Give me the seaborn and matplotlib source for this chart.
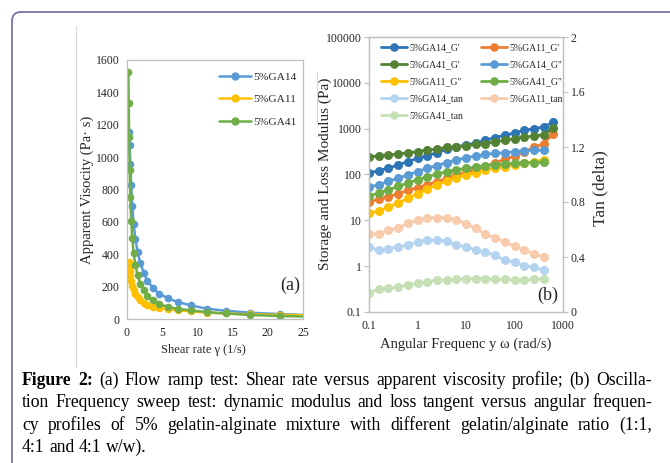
import matplotlib
matplotlib.use("Agg")
import matplotlib.pyplot as plt
import seaborn as sns
import pandas as pd
from matplotlib.patches import FancyBboxPatch
from matplotlib.lines import Line2D
from matplotlib.ticker import NullLocator
from matplotlib.transforms import IdentityTransform

# ---------------- (a) flow ramp: shear rate vs apparent viscosity
samples_a = ["5%GA14", "5%GA11", "5%GA41"]
colors_a = ["#5B9BD5", "#FFC000", "#70AD47"]

shear_ga14 = [0.3, 0.38, 0.47, 0.6, 0.75, 0.94, 1.2, 1.5, 1.9, 2.4, 2.9, 3.7, 4.6,
              5.8, 7.2, 9.1, 11.3, 14.0, 17.5, 21.8, 27.1]
visc_ga14 = [1156, 1075, 959, 827, 701, 586, 496, 412, 346, 284, 235, 191, 156,
             128, 105, 84, 64, 51, 39, 30, 22]

shear_ga11 = [0.24, 0.3, 0.38, 0.47, 0.6, 0.75, 0.94, 1.2, 1.5, 1.9, 2.4, 2.9, 3.7,
              4.6, 5.8, 7.2, 9.1, 11.3, 14.0, 17.5, 21.8, 27.1]
visc_ga11 = [350, 325, 295, 265, 235, 205, 180, 155, 135, 115, 100, 88, 77,
             68, 60, 53, 47, 40, 34, 29, 25, 22]

shear_ga41 = [0.19, 0.24, 0.3, 0.38, 0.47, 0.6, 0.75, 0.94, 1.2, 1.5, 1.9, 2.4, 2.9,
              3.7, 4.6, 5.8, 7.2, 9.1, 11.3, 14.0, 17.5, 21.8, 27.1]
visc_ga41 = [1527, 1333, 1123, 918, 751, 607, 498, 405, 333, 272, 218, 177, 144,
             115, 92, 75, 63, 53, 43, 34, 25, 18, 14]

# ---------------- (b) frequency sweep
freq = [0.1, 0.158, 0.251, 0.398, 0.631, 1.0, 1.58, 2.51, 3.98, 6.31, 10.0, 15.8,
        25.1, 39.8, 63.1, 100, 158, 251, 398]
freq_gp = freq + [631]

ga14_gp = [107, 122, 137, 162, 191, 225, 257, 298, 352, 402, 437, 490, 560, 639,
           718, 806, 920, 1000, 1086, 1393]
ga11_gp = [25, 29, 33, 38, 45, 52, 60, 70, 82, 96, 112, 130, 149, 181, 214, 253,
           314, 389, 470, 780]
ga41_gp = [245, 253, 266, 279, 298, 314, 340, 358, 389, 402, 423, 452, 474, 516,
           560, 608, 661, 684, 742, 1034]
ga14_gpp = [53, 60, 71, 83, 98, 116, 137, 157, 182, 207, 232, 253, 275, 289, 298,
            314, 330, 340, 340]
ga11_gpp = [14.2, 15.9, 19.4, 24, 30, 38, 48, 60, 73, 86, 98, 110, 126, 137, 149,
            162, 176, 191, 207]
ga41_gpp = [33.5, 39.5, 46.5, 55, 65, 77, 90, 102, 116, 126, 137, 144, 157, 162,
            170, 176, 181, 181, 185]
ga14_tan = [0.475, 0.448, 0.461, 0.475, 0.487, 0.509, 0.521, 0.521, 0.516, 0.487,
            0.475, 0.451, 0.436, 0.412, 0.378, 0.364, 0.335, 0.327, 0.303]
ga11_tan = [0.565, 0.57, 0.594, 0.613, 0.645, 0.667, 0.686, 0.686, 0.686, 0.669,
            0.642, 0.608, 0.565, 0.54, 0.509, 0.48, 0.451, 0.424, 0.4]
ga41_tan = [0.141, 0.165, 0.172, 0.182, 0.196, 0.208, 0.221, 0.230, 0.233, 0.238,
            0.242, 0.242, 0.242, 0.238, 0.238, 0.233, 0.233, 0.238, 0.242]

mod_names = ["5%GA14_G'", "5%GA11_G'", "5%GA41_G'", '5%GA14_G"', '5%GA11_G"', '5%GA41_G"']
mod_colors = ["#2E75B6", "#ED7D31", "#548235", "#5B9BD5", "#FFC000", "#70AD47"]
tan_names = ["5%GA14_tan", "5%GA11_tan", "5%GA41_tan"]
tan_colors = ["#B4D3EF", "#F8CBAD", "#C5E0B4"]

ticks_a_x = [0, 5, 10, 15, 20, 25]
ticks_a_y = [0, 200, 400, 600, 800, 1000, 1200, 1400, 1600]
ticks_b_x = [0.1, 1, 10, 100, 1000]
ticks_b_x_lab = ["0.1", "1", "10", "100", "1000"]
ticks_b_y = [0.1, 1, 10, 100, 1000, 10000, 100000]
ticks_b_y_lab = ["0.1", "1", "10", "100", "1000", "10000", "100000"]
ticks_tan = [0, 0.4, 0.8, 1.2, 1.6, 2]
ticks_tan_lab = ["0", "0.4", "0.8", "1.2", "1.6", "2"]

caption = [
    [("Figure 2:", True), ("(a) Flow ramp test: Shear rate versus apparent viscosity profile; (b) Oscilla-", False)],
    [("tion Frequency sweep test: dynamic modulus and loss tangent versus angular frequen-", False)],
    [("cy profiles of 5% gelatin-alginate mixture with different gelatin/alginate ratio (1:1,", False)],
    [("4:1 and 4:1 w/w).", False)],
]

sns.set_theme(style="white")
plt.rcParams["font.family"] = ["Liberation Serif", "DejaVu Serif"]

W, H = 670, 463
fig = plt.figure(figsize=(W / 100, H / 100), dpi=100)
fig.patch.set_facecolor("white")

GRAY = "#BFBFBF"
TXT = "#262626"


def style_axes(ax):
    for s in ax.spines.values():
        s.set_color(GRAY)
        s.set_linewidth(0.9)
    ax.tick_params(axis="both", which="major", direction="out", length=3.5, width=0.8,
                   color=GRAY, labelcolor=TXT, labelsize=8.5, pad=2)


# ---------------- panel (a)
ax_a = fig.add_axes([127 / W, 1 - 319 / H, 176 / W, 259 / H])
df_a = pd.concat([
    pd.DataFrame({"shear": shear_ga14, "visc": visc_ga14, "sample": samples_a[0]}),
    pd.DataFrame({"shear": shear_ga11, "visc": visc_ga11, "sample": samples_a[1]}),
    pd.DataFrame({"shear": shear_ga41, "visc": visc_ga41, "sample": samples_a[2]}),
])
sns.lineplot(data=df_a, x="shear", y="visc", hue="sample", hue_order=samples_a,
             palette=colors_a, marker="o", markersize=5.5, markeredgewidth=0,
             linewidth=1.8, sort=False, legend=False, ax=ax_a)
ax_a.set_xlim(0, 25)
ax_a.set_ylim(0, 1600)
ax_a.set_xticks(ticks_a_x)
ax_a.set_yticks(ticks_a_y)
style_axes(ax_a)
ax_a.set_xlabel("Shear rate γ (1/s)", fontsize=9, color=TXT)
ax_a.xaxis.set_label_coords((203 - 127) / 176, -0.095)
ax_a.set_ylabel("Apparent Visocity (Pa· s)", fontsize=10.5, color=TXT, labelpad=1)
ax_a.text(0.985, 0.13, "(a)", transform=ax_a.transAxes, ha="right", va="center",
          fontsize=13, color=TXT)
h_a = [Line2D([], [], color=c, marker="o", markersize=6, markeredgewidth=0, linewidth=1.8)
       for c in colors_a]
ax_a.legend(h_a, samples_a, loc="upper right", bbox_to_anchor=(1.0, 0.98), frameon=False,
            fontsize=8.2, handlelength=2.8, handletextpad=0.2, labelspacing=1.1,
            borderaxespad=0.2)

# ---------------- panel (b)
ax_b = fig.add_axes([369 / W, 1 - 312 / H, 194 / W, 275 / H])
df_mod = pd.concat([
    pd.DataFrame({"freq": freq_gp, "mod": ga14_gp, "series": mod_names[0]}),
    pd.DataFrame({"freq": freq_gp, "mod": ga11_gp, "series": mod_names[1]}),
    pd.DataFrame({"freq": freq_gp, "mod": ga41_gp, "series": mod_names[2]}),
    pd.DataFrame({"freq": freq, "mod": ga14_gpp, "series": mod_names[3]}),
    pd.DataFrame({"freq": freq, "mod": ga11_gpp, "series": mod_names[4]}),
    pd.DataFrame({"freq": freq, "mod": ga41_gpp, "series": mod_names[5]}),
])
df_tan = pd.concat([
    pd.DataFrame({"freq": freq, "tan": ga14_tan, "series": tan_names[0]}),
    pd.DataFrame({"freq": freq, "tan": ga11_tan, "series": tan_names[1]}),
    pd.DataFrame({"freq": freq, "tan": ga41_tan, "series": tan_names[2]}),
])
sns.lineplot(data=df_mod, x="freq", y="mod", hue="series", hue_order=mod_names,
             palette=mod_colors, marker="o", markersize=6.5, markeredgewidth=0,
             linewidth=2.0, legend=False, ax=ax_b)
ax_b.set_xscale("log")
ax_b.set_yscale("log")
ax_t = ax_b.twinx()
sns.lineplot(data=df_tan, x="freq", y="tan", hue="series", hue_order=tan_names,
             palette=tan_colors, marker="o", markersize=6.5, markeredgewidth=0,
             linewidth=2.0, legend=False, ax=ax_t)
ax_b.set_xlim(0.1, 1000)
ax_b.set_ylim(0.1, 100000)
ax_t.set_ylim(0, 2)
ax_b.set_xticks(ticks_b_x, labels=ticks_b_x_lab)
ax_b.set_yticks(ticks_b_y, labels=ticks_b_y_lab)
ax_b.xaxis.set_minor_locator(NullLocator())
ax_b.yaxis.set_minor_locator(NullLocator())
ax_t.set_yticks(ticks_tan, labels=ticks_tan_lab)
style_axes(ax_b)
style_axes(ax_t)
ax_b.set_xlabel("Angular Frequenc y ω (rad/s)", fontsize=10.5, color=TXT, labelpad=4)
ax_b.set_ylabel("Storage and Loss Modulus (Pa)", fontsize=11, color=TXT)
ax_b.yaxis.set_label_coords(-0.19, (312 - 174) / 275)
ax_t.set_ylabel("Tan (delta)", fontsize=12.5, color=TXT)
ax_t.yaxis.set_label_coords(1.15, (312 - 188) / 275)
ax_t.text(0.975, 0.06, "(b)", transform=ax_t.transAxes, ha="right", va="center",
          fontsize=13, color=TXT)

names_b = mod_names + tan_names
colors_b = mod_colors + tan_colors
h_b = [Line2D([], [], color=c, marker="o", markersize=6.2, markeredgewidth=0, linewidth=2.0)
       for c in colors_b]
order = [0, 2, 4, 6, 8, 1, 3, 5, 7]
ax_t.legend([h_b[i] for i in order], [names_b[i] for i in order], loc="upper left",
            bbox_to_anchor=(0.03, 1.0), ncol=2, frameon=False, fontsize=7.0,
            handlelength=2.7, handletextpad=0.25, labelspacing=0.82, columnspacing=1.8,
            borderaxespad=0.25)

# ---------------- frame decorations
border = FancyBboxPatch((12, -40), 720, H - 12 + 40,
                        boxstyle="round,pad=0,rounding_size=9",
                        transform=IdentityTransform(), facecolor="none",
                        edgecolor="#6E66A6", linewidth=1.2)
fig.patches.append(border)
fig.add_artist(Line2D([76, 76], [H - 26, H - 367], transform=IdentityTransform(),
                      color="#D9D9D9", linewidth=0.8))
fig.add_artist(Line2D([317, 317], [H - 72, H - 122], transform=IdentityTransform(),
                      color="#D9D9D9", linewidth=0.8))

# ---------------- justified caption
renderer = fig.canvas.get_renderer()
left_px, right_px = 22, 652
base_y = [385, 407, 430, 452]
cap_size = 12.7
space_px = 0.25 * cap_size * 100 / 72
for li, parts in enumerate(caption):
    words = []
    for txt, bold in parts:
        for w in txt.split(" "):
            words.append((w, bold))
    texts = [fig.text(0, 1 - base_y[li] / H, w, fontsize=cap_size, color="black",
                      fontweight="bold" if b else "normal", ha="left", va="baseline")
             for w, b in words]
    widths = [t.get_window_extent(renderer).width for t in texts]
    if li < len(caption) - 1 and len(texts) > 1:
        gap = (right_px - left_px - sum(widths)) / (len(texts) - 1)
    else:
        gap = space_px
    x = left_px
    for t, w in zip(texts, widths):
        t.set_x(x / W)
        x += w + gap

fig.savefig("out.png", dpi=100, facecolor="white")
